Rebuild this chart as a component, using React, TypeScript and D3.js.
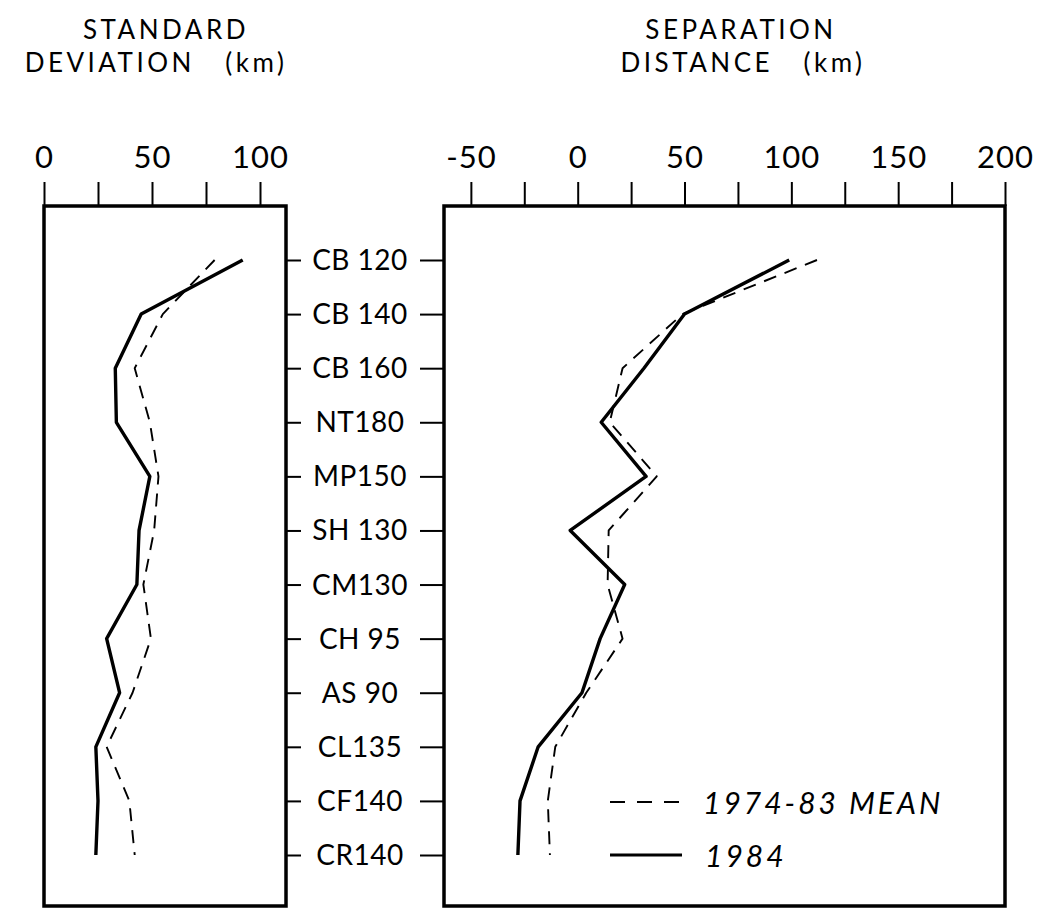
import React, { useRef, useEffect } from "react";
import { select, scaleLinear, scalePoint, axisTop, axisRight, axisLeft, line } from "d3";

// station labels, top to bottom
const stations = ["CB 120", "CB 140", "CB 160", "NT180", "MP150", "SH 130", "CM130", "CH 95", "AS 90", "CL135", "CF140", "CR140"];

// standard deviation (km)
const sdMean = [79, 55, 42, 49, 53, 51, 46, 49.5, 41, 29, 39.5, 42];
const sd1984 = [92, 45, 33, 33.5, 49, 44, 43, 29, 35, 24, 25, 24];

// separation distance (km)
const sepMean = [112, 49, 21, 15, 37, 14.5, 14, 21, 4, -10.5, -14, -13];
const sep1984 = [99, 50, 31, 11, 32, -3.5, 22, 10.5, 2, -18.5, -27, -28];

const sdTicks = [0, 25, 50, 75, 100];
const sepTicks = [-50, -25, 0, 25, 50, 75, 100, 125, 150, 175, 200];

const FONT = "Lato, 'Noto Sans', sans-serif";

function App() {
  const svgRef = useRef<SVGSVGElement>(null);

  useEffect(() => {
    const svg = select(svgRef.current);
    svg.selectAll("*").remove();

    const top = 206, bottom = 906;

    const y = scalePoint<string>().domain(stations).range([260, 855]);
    const xSd = scaleLinear().domain([0, 100]).range([44, 260]);
    const xSep = scaleLinear().domain([0, 200]).range([577.7, 1005]);

    const sdLeft = xSd(0), sdRight = 286;
    const sepLeft = 444, sepRight = xSep(200);

    const fmt = (d: any) => (d % 50 === 0 ? String(d) : "");

    // top axes
    const drawTop = (scale: any, ticks: number[]) => {
      const g = svg.append("g").attr("transform", `translate(0,${top})`)
        .call(axisTop(scale).tickValues(ticks).tickSize(24).tickPadding(14).tickFormat(fmt));
      g.select(".domain").remove();
      g.selectAll(".tick line").attr("stroke", "#000").attr("stroke-width", 2);
      g.selectAll(".tick text").attr("font-family", FONT).attr("font-size", 31)
        .attr("letter-spacing", 1).attr("fill", "#000");
    };
    drawTop(xSd, sdTicks);
    drawTop(xSep, sepTicks);

    // station ticks
    const gl = svg.append("g").attr("transform", `translate(${sdRight},0)`)
      .call(axisRight(y).tickSize(15).tickFormat(() => ""));
    gl.select(".domain").remove();
    gl.selectAll(".tick line").attr("stroke", "#000").attr("stroke-width", 2);

    const gr = svg.append("g").attr("transform", `translate(${sepLeft},0)`)
      .call(axisLeft(y).tickSize(24).tickFormat(() => ""));
    gr.select(".domain").remove();
    gr.selectAll(".tick line").attr("stroke", "#000").attr("stroke-width", 2);

    svg.append("g").selectAll("text").data(stations).join("text")
      .attr("x", 360).attr("y", d => y(d)! + 10)
      .attr("text-anchor", "middle")
      .attr("font-family", FONT).attr("font-size", 28).attr("letter-spacing", 0.5)
      .text(d => d);

    // boxes
    [[sdLeft, sdRight], [sepLeft, sepRight]].forEach(([l, r]) => {
      svg.append("rect").attr("x", l).attr("y", top).attr("width", r - l).attr("height", bottom - top)
        .attr("fill", "none").attr("stroke", "#000").attr("stroke-width", 3.5);
    });

    // lines
    const drawLine = (scale: any, vals: number[], dashed: boolean) => {
      const gen = line<number>().x(v => scale(v)).y((v, i) => y(stations[i])!);
      svg.append("path").attr("d", gen(vals))
        .attr("fill", "none").attr("stroke", "#000")
        .attr("stroke-width", dashed ? 1.9 : 3.4)
        .attr("stroke-linejoin", "round")
        .attr("stroke-dasharray", dashed ? "13 9" : null);
    };
    drawLine(xSd, sdMean, true);
    drawLine(xSd, sd1984, false);
    drawLine(xSep, sepMean, true);
    drawLine(xSep, sep1984, false);

    // titles
    const title = (x: number, yy: number, t: string) =>
      svg.append("text").attr("x", x).attr("y", yy).attr("text-anchor", "middle")
        .attr("font-family", FONT).attr("font-size", 26).attr("letter-spacing", 3.5)
        .attr("xml:space", "preserve").style("white-space", "pre").text(t);
    title(166, 39, "STANDARD");
    title(156, 72, "DEVIATION   (km)");
    title(741, 39, "SEPARATION");
    title(743, 72, "DISTANCE   (km)");

    // legend
    svg.append("line").attr("x1", 610).attr("x2", 682).attr("y1", 802).attr("y2", 802)
      .attr("stroke", "#000").attr("stroke-width", 2).attr("stroke-dasharray", "15 12");
    svg.append("line").attr("x1", 610).attr("x2", 682).attr("y1", 855).attr("y2", 855)
      .attr("stroke", "#000").attr("stroke-width", 3);
    svg.append("text").attr("x", 703).attr("y", 814).attr("font-family", FONT)
      .attr("font-style", "italic").attr("font-size", 30).attr("letter-spacing", 3).text("1974-83 MEAN");
    svg.append("text").attr("x", 705).attr("y", 867).attr("font-family", FONT)
      .attr("font-style", "italic").attr("font-size", 30).attr("letter-spacing", 3).text("1984");
  }, []);

  return (
    <svg ref={svgRef} width={1043} height={909}
      style={{ position: "absolute", left: 0, top: 0, background: "#fff" }} />
  );
}

export default App;
